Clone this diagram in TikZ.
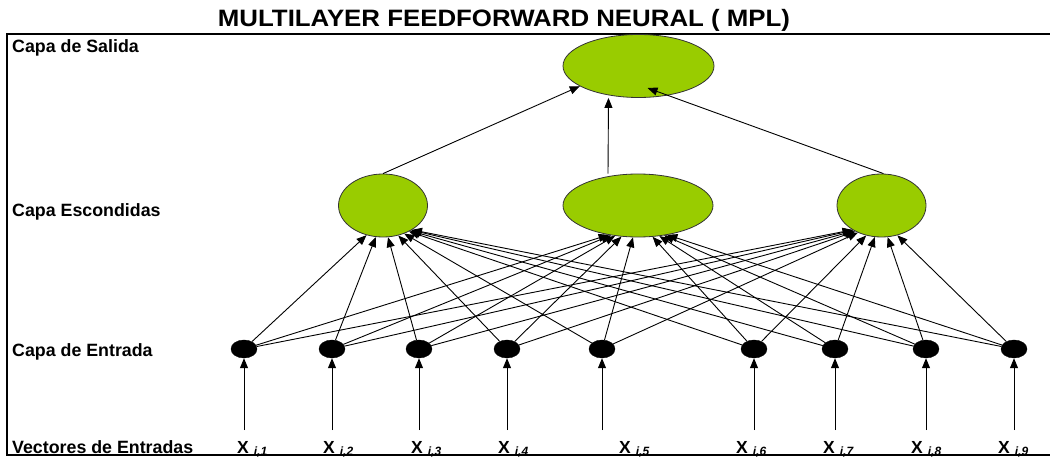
\documentclass[tikz,border=0pt]{standalone}
\usepackage{fontspec}
\setmainfont{Liberation Sans}
\usepackage{graphicx}
\usetikzlibrary{arrows.meta,shapes.geometric,calc}
\definecolor{nngreen}{HTML}{99CC00}
\newcommand{\xlab}[1]{\textbf{X}\hspace{5pt}\raisebox{-2pt}{\fontsize{12}{13}\selectfont\bfseries\itshape i,#1}}
\begin{document}
\begin{tikzpicture}[x=1pt,y=-1pt,
  arr/.style={-{Triangle[length=10pt,width=8pt]},line width=0.9pt,black},
  neuron/.style={ellipse,draw=black!80,line width=0.8pt,fill=nngreen,inner sep=0pt},
  innode/.style={ellipse,fill=black,draw=black,inner sep=0pt,minimum width=26pt,minimum height=18pt},
  rowlab/.style={anchor=base west,inner sep=0pt,font=\fontsize{17.8}{20}\selectfont\bfseries},
  xl/.style={anchor=base west,inner sep=0pt,font=\fontsize{17.5}{20}\selectfont}
]
\useasboundingbox (0,0) rectangle (1050,457);
% frame
\draw[line width=1.5pt] (1052,34) -- (7,34) -- (7,455) -- (1052,455);
% title
\node[anchor=base,inner sep=0pt] (title) at (504,27)
  {\scalebox{1.09}[1]{\fontsize{23.7}{26}\selectfont\bfseries MULTILAYER FEEDFORWARD NEURAL ( MPL)}};
% row labels
\node[rowlab] (l1) at (12,53) {Capa de Salida};
\node[rowlab] (l2) at (12,217) {Capa Escondidas};
\node[rowlab] (l3) at (12,356) {Capa de Entrada};
\node[rowlab] (l4) at (12,453) {Vectores de Entradas};
% output and hidden neurons
\node[neuron,minimum width=151pt,minimum height=63pt] (o) at (638.5,66) {};
\node[neuron,minimum width=89pt,minimum height=63pt] (h1) at (383,205.5) {};
\node[neuron,minimum width=150pt,minimum height=63pt] (h2) at (638,205.5) {};
\node[neuron,minimum width=89pt,minimum height=63pt] (h3) at (881.5,205.5) {};
% input neurons, sources and labels
\foreach \i/\x/\lx in {1/244/237,2/332/323,3/419/411,4/507/498,5/602/619,6/754/736,7/835/823,8/926/911,9/1014/998}{
  \node[innode] (in\i) at (\x,349) {};
  \coordinate (s\i) at (\x,430);
  \node[xl] (x\i) at (\lx,453) {\xlab{\i}};
  \draw[arr] (s\i) -- (in\i);
  \foreach \h in {1,2,3}{
    \path let \p1=(in\i), \p2=(h\h.center),
      \n1={atan2(\y1-\y2,\x1-\x2)},
      \n2={int(round(-90+0.65*(\n1+90)))} in
      coordinate (t\i-\h) at (h\h.\n2);
    \draw[arr] (in\i) -- (t\i-\h);
  }
}
% hidden to output
\draw[arr] (h1.north) -- (o.199);
\draw[arr] ([xshift=-30pt]h2.north) -- ([xshift=-30pt]o.south);
\draw[arr] ([xshift=2pt]h3.north) -- ([shift={(9pt,-22pt)}]o.center);
\end{tikzpicture}
\end{document}
